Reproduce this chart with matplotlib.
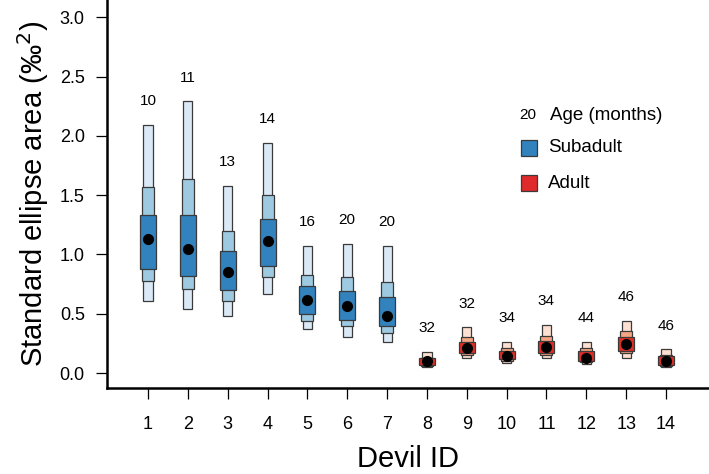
import matplotlib
matplotlib.use("Agg")
import matplotlib.pyplot as plt
from matplotlib.patches import Rectangle
import numpy as np

plt.rcParams['font.family'] = ['Liberation Sans', 'DejaVu Sans']

devil_ids = list(range(1, 15))
ages = [10, 11, 13, 14, 16, 20, 20, 32, 32, 34, 34, 44, 46, 46]
groups = ['Subadult'] * 7 + ['Adult'] * 7
mode = [1.13, 1.05, 0.85, 1.11, 0.62, 0.565, 0.48, 0.10, 0.21, 0.143, 0.22, 0.13, 0.245, 0.104]
ci95_lo = [0.61, 0.54, 0.48, 0.67, 0.37, 0.30, 0.26, 0.05, 0.124, 0.087, 0.124, 0.073, 0.13, 0.05]
ci95_hi = [2.09, 2.29, 1.58, 1.94, 1.07, 1.09, 1.07, 0.18, 0.385, 0.26, 0.405, 0.26, 0.44, 0.20]
ci75_lo = [0.78, 0.71, 0.61, 0.81, 0.44, 0.40, 0.34, 0.06, 0.15, 0.10, 0.15, 0.09, 0.166, 0.06]
ci75_hi = [1.57, 1.64, 1.20, 1.50, 0.83, 0.81, 0.77, 0.13, 0.30, 0.21, 0.31, 0.21, 0.354, 0.15]
ci50_lo = [0.88, 0.82, 0.70, 0.90, 0.50, 0.45, 0.40, 0.07, 0.165, 0.115, 0.17, 0.10, 0.185, 0.07]
ci50_hi = [1.33, 1.33, 1.03, 1.30, 0.73, 0.69, 0.64, 0.125, 0.26, 0.19, 0.27, 0.185, 0.306, 0.145]

palette = {
    'Subadult': ['#dbe9f6', '#9ecae1', '#3182bd'],
    'Adult': ['#fde0d2', '#f4a582', '#de2d26'],
}
legend_colors = {'Subadult': '#3182bd', 'Adult': '#e0292a'}
widths = [0.23, 0.30, 0.40]
edge = '#3a3a3a'

fig = plt.figure(figsize=(7.09, 4.74), dpi=100)
ax = fig.add_axes([107/709, 1 - 388/474, 1 - 107/709, 388/474])

for i, d in enumerate(devil_ids):
    cols = palette[groups[i]]
    for k, (lo, hi) in enumerate([(ci95_lo[i], ci95_hi[i]), (ci75_lo[i], ci75_hi[i]), (ci50_lo[i], ci50_hi[i])]):
        w = widths[k]
        ax.add_patch(Rectangle((d - w/2, lo), w, hi - lo, facecolor=cols[k],
                               edgecolor=edge, linewidth=0.9, zorder=2 + k))
    ax.plot(d, mode[i], 'o', color='black', markersize=7, zorder=6)
    ax.text(d, ci95_hi[i] + 0.2, str(ages[i]), ha='center', va='center', fontsize=11)

ax.set_xlim(-0.03, 15.08)
ax.set_ylim(-0.126, 3.145)
ax.set_xticks(devil_ids)
ax.set_yticks([0.0, 0.5, 1.0, 1.5, 2.0, 2.5, 3.0])
ax.set_yticklabels(['0.0', '0.5', '1.0', '1.5', '2.0', '2.5', '3.0'])
ax.spines['top'].set_visible(False)
ax.spines['right'].set_visible(False)
for s in ['left', 'bottom']:
    ax.spines[s].set_linewidth(1.8)
ax.tick_params(axis='both', length=8, width=0.9, labelsize=13, colors='black')
ax.tick_params(axis='x', pad=12)
ax.tick_params(axis='y', pad=8)
ax.set_xlabel('Devil ID', fontsize=21, labelpad=9)
ax.set_ylabel('Standard ellipse area (‰$^{2}$)', fontsize=21, labelpad=6)

# legend (manual)
fig.text(528/709, 1 - 115/474, '20', ha='center', va='center', fontsize=11)
fig.text(550/709, 1 - 115/474, 'Age (months)', ha='left', va='center', fontsize=13.5)
for py, g in [(148, 'Subadult'), (183, 'Adult')]:
    fig.patches.append(Rectangle((521/709, 1 - (py + 8)/474), 16/709, 16/474,
                                 transform=fig.transFigure, facecolor=legend_colors[g],
                                 edgecolor=edge, linewidth=0.9))
    fig.text(548/709, 1 - py/474, g, ha='left', va='center', fontsize=13.5)

fig.savefig('out.png', dpi=100)
